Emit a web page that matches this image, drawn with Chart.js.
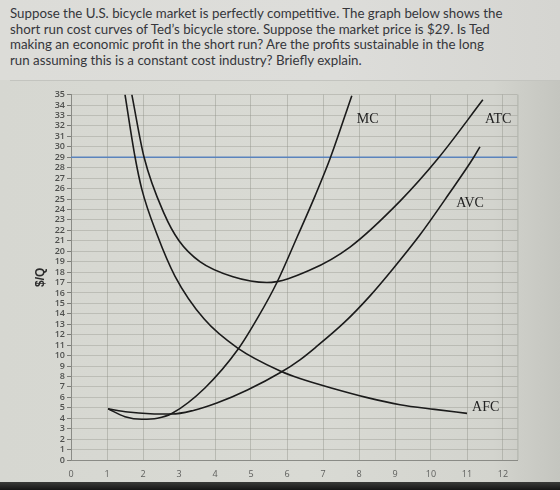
<!DOCTYPE html>
<html><head><meta charset="utf-8">
<script src="https://cdn.jsdelivr.net/npm/chart.js@4.4.1/dist/chart.umd.min.js"></script>
<style>
html,body{margin:0;padding:0;width:560px;height:490px;overflow:hidden;}
body{position:relative;background:linear-gradient(90deg,#d6d7d1 0%,#d9dad4 55%,#d3d4ce 88%,#c4c5bf 100%);font-family:Lato,"Open Sans",sans-serif;}
#top{position:absolute;left:0;top:0;width:560px;height:80px;background:linear-gradient(90deg,#dcdcd8,#dddddA 60%,#d5d5d1);}
#q{position:absolute;left:10px;top:6px;color:#35363b;font-size:14.5px;line-height:15.7px;white-space:nowrap;}
#box{position:absolute;left:10px;top:80px;right:0;height:0;border-top:1px solid #c3c4bf;}
#bot{position:absolute;left:0;right:0;top:482px;bottom:0;background:linear-gradient(180deg,#3a3b39,#151515);}
canvas{position:absolute;left:0;top:0;}
</style></head><body>
<div id="top"></div>
<div id="q"><div id="l1">Suppose the U.S. bicycle market is perfectly competitive. The graph below shows the</div><div>short run cost curves of Ted’s bicycle store. Suppose the market price is $29. Is Ted</div><div>making an economic profit in the short run? Are the profits sustainable in the long</div><div>run assuming this is a constant cost industry? Briefly explain.</div></div>
<div id="box"></div>
<div id="bot"></div>
<canvas id="c" width="560" height="490"></canvas>
<script>
// ---- data ----
const xTickValues = [0,1,2,3,4,5,6,7,8,9,10,11,12];
const yTickValues = Array.from({length:36},(_,i)=>i);
const yAxisTitle = '$/Q';

const mcQ    = [1.03,1.5,1.97,2.4,2.8,3.72,4.64,5.2,5.72,6.3,6.78,7.2,7.8];
const mcCost = [4.9,4.15,3.9,4.0,4.45,6.9,10.6,13.7,17.0,21.5,25.3,28.9,34.9];

const avcQ    = [1.03,1.58,2.2,2.8,3.4,4.05,4.9,5.83,6.36,6.78,7.6,8.3,8.94,9.7,10.5,11.17,11.36];
const avcCost = [4.9,4.6,4.43,4.4,4.75,5.45,6.7,8.4,9.6,10.75,13.2,15.7,18.3,21.6,25.5,28.9,30.0];

const atcQ    = [1.69,2.03,2.6,3.0,3.58,4.5,5.44,6.64,7.75,9.14,10.2,11.44];
const atcCost = [35,29.0,23.5,21.0,19.0,17.55,17.0,18.2,20.4,24.8,28.9,34.5];

const afcQ    = [1.5,1.78,1.97,2.39,2.89,3.7,4.64,5.83,6.36,7.28,8.2,9.14,10.1,11.0];
const afcCost = [35,29,25.9,21.6,17.6,13.5,10.7,8.5,7.8,6.85,6.0,5.3,4.85,4.47];

const priceQ = [0,12.4];
const marketPrice = 29;

const curveNames = ['MC','ATC','AVC','AFC'];
const labelQ     = [7.94,11.5,10.7,11.14];
const labelCost  = [32.6,32.6,24.6,5.0];

// ---- fit question text width ----
(function(){
  const q=document.getElementById('q'), l1=document.getElementById('l1');
  const w=l1.getBoundingClientRect().width;
  const fs=14.5*493/w;
  q.style.fontSize=fs.toFixed(2)+'px';
})();

const pts=(xs,ys)=>xs.map((x,i)=>({x:x,y:ys[i]}));
const curveStyle={borderColor:'#1b1b1b',borderWidth:1.6,pointRadius:0,fill:false,cubicInterpolationMode:'monotone'};

const labelPlugin={
  id:'curveLabels',
  afterDatasetsDraw(chart){
    const {ctx,scales:{x,y}}=chart;
    ctx.save();
    ctx.font='14px "Liberation Serif", "DejaVu Serif", serif';
    ctx.fillStyle='#222';
    ctx.textBaseline='middle';
    ctx.textAlign='left';
    curveNames.forEach((n,i)=>ctx.fillText(n,x.getPixelForValue(labelQ[i]),y.getPixelForValue(labelCost[i])));
    ctx.restore();
  },
  beforeDatasetsDraw(chart){
    const {ctx,chartArea:a}=chart;
    ctx.save();
    ctx.strokeStyle='rgba(140,142,134,0.45)';
    ctx.lineWidth=1;
    ctx.beginPath();ctx.moveTo(a.right+0.5,a.top);ctx.lineTo(a.right+0.5,a.bottom);ctx.stroke();
    ctx.restore();
  }
};

new Chart(document.getElementById('c'),{
  type:'line',
  data:{datasets:[
    Object.assign({label:'MC',data:pts(mcQ,mcCost)},curveStyle),
    Object.assign({label:'AVC',data:pts(avcQ,avcCost)},curveStyle),
    Object.assign({label:'ATC',data:pts(atcQ,atcCost)},curveStyle),
    Object.assign({label:'AFC',data:pts(afcQ,afcCost)},curveStyle),
    {label:'Price',data:priceQ.map(q=>({x:q,y:marketPrice})),borderColor:'#5a83bd',borderWidth:1.6,pointRadius:0,fill:false,tension:0}
  ]},
  options:{
    responsive:false,animation:false,devicePixelRatio:1,
    layout:{padding:{left:0,right:42.6,top:94.6,bottom:0}},
    plugins:{legend:{display:false},tooltip:{enabled:false}},
    scales:{
      x:{type:'linear',min:0,max:12.4,
        afterBuildTicks:s=>{s.ticks=xTickValues.map(v=>({value:v}));},
        afterFit:s=>{s.height=30;},
        grid:{color:'rgba(140,142,134,0.42)',lineWidth:1,tickLength:0,drawTicks:false},
        border:{color:'#8a8b86',width:1},
        ticks:{color:'#5d5e5c',font:{family:'"Open Sans", sans-serif',size:9},padding:9,maxRotation:0,autoSkip:false}
      },
      y:{type:'linear',min:0,max:35,
        afterBuildTicks:s=>{s.ticks=yTickValues.map(v=>({value:v}));},
        afterFit:s=>{s.width=71;},
        grid:{color:'rgba(140,142,134,0.36)',lineWidth:1,tickLength:4,tickColor:'#7c7d78'},
        border:{color:'#8a8b86',width:1},
        ticks:{color:'#4f504e',font:{family:'"Open Sans", sans-serif',size:9,weight:'600'},padding:2,autoSkip:false},
        title:{display:true,text:yAxisTitle,color:'#2b2b2b',font:{family:'"Liberation Sans", sans-serif',size:12,weight:'bold'},padding:{top:33,bottom:0}}
      }
    }
  },
  plugins:[labelPlugin]
});
</script>
</body></html>
